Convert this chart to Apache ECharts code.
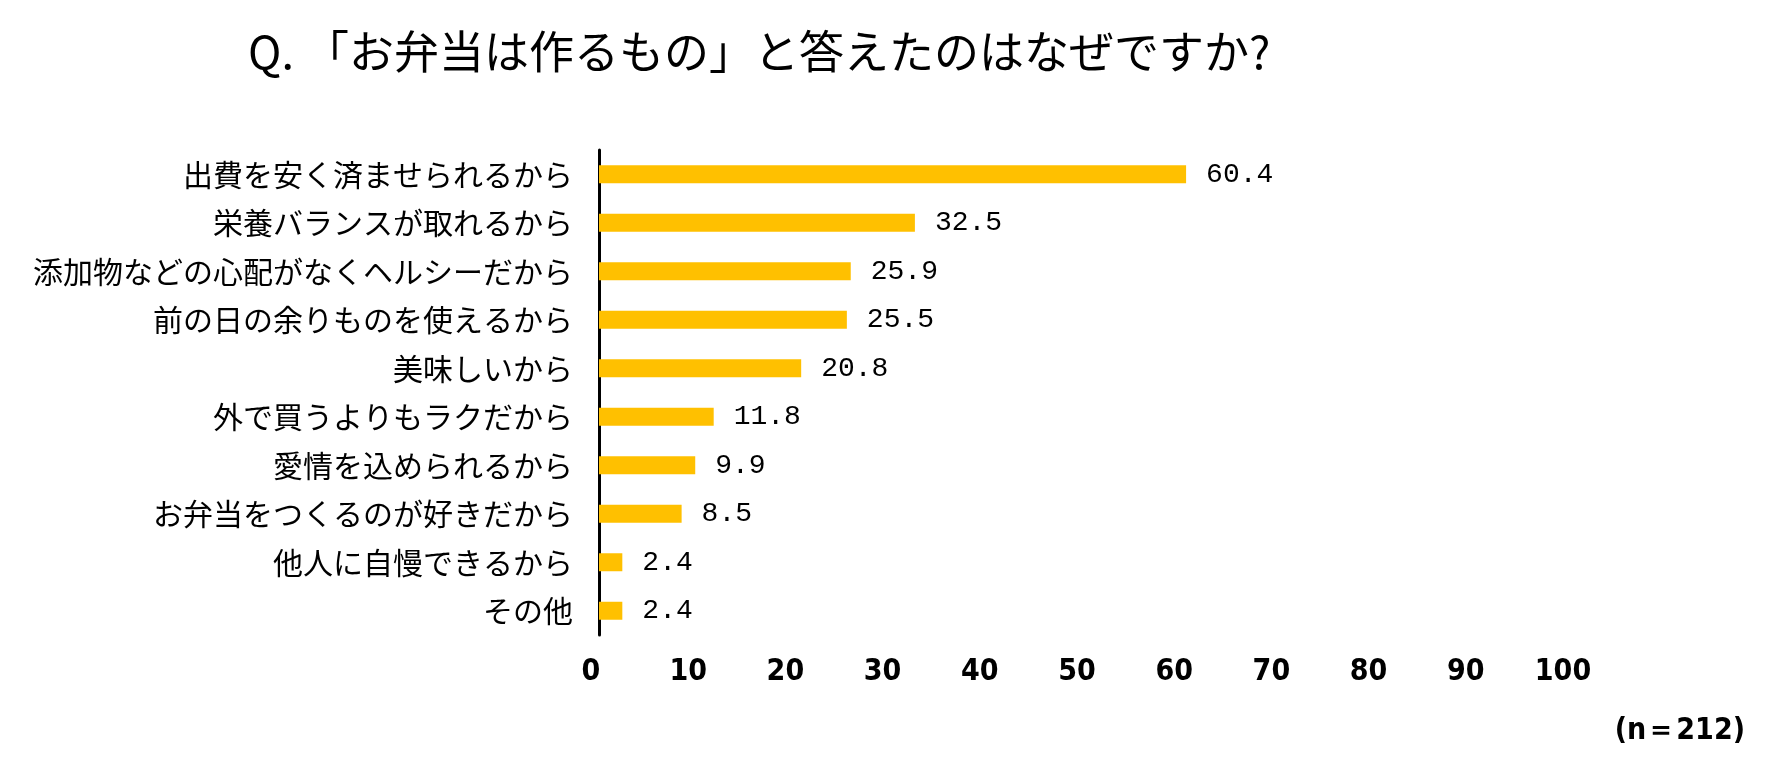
<!DOCTYPE html>
<html>
<head>
<meta charset="utf-8">
<script src="https://cdn.jsdelivr.net/npm/echarts@6/dist/echarts.min.js"></script>
<style>
  html, body { margin: 0; padding: 0; background: #fff; }
  #chart { width: 1779px; height: 784px; }
</style>
</head>
<body>
<div id="chart"></div>
<script>
const titleText = 'Q. 「お弁当は作るもの」と答えたのはなぜですか?';
const noteText = '(n＝212)';

const reasons = [
  '出費を安く済ませられるから',
  '栄養バランスが取れるから',
  '添加物などの心配がなくヘルシーだから',
  '前の日の余りものを使えるから',
  '美味しいから',
  '外で買うよりもラクだから',
  '愛情を込められるから',
  'お弁当をつくるのが好きだから',
  '他人に自慢できるから',
  'その他'
];
const percents = [60.4, 32.5, 25.9, 25.5, 20.8, 11.8, 9.9, 8.5, 2.4, 2.4];

const axisMin = 0;
const axisMax = 100;
const axisStep = 10;

const chart = echarts.init(document.getElementById('chart'));

const option = {
  backgroundColor: '#fff',
  animation: false,
  title: {
    text: titleText,
    left: 243,
    top: 24,
    textStyle: {
      fontFamily: 'Noto Sans CJK JP',
      fontSize: 45,
      fontWeight: 'normal',
      color: '#000'
    }
  },
  grid: {
    left: 599,
    right: 208,
    top: 150,
    bottom: 149,
    containLabel: false
  },
  xAxis: {
    type: 'value',
    min: axisMin,
    max: axisMax,
    interval: axisStep,
    axisLine: { show: false },
    axisTick: { show: false },
    splitLine: { show: false },
    axisLabel: {
      margin: 22,
      padding: [0, 16, 0, 0],
      fontFamily: 'DejaVu Sans Condensed',
      fontWeight: 'bold',
      fontSize: 30,
      color: '#000'
    }
  },
  yAxis: {
    type: 'category',
    inverse: true,
    data: reasons,
    axisLine: { show: true, lineStyle: { color: '#000', width: 3 } },
    axisTick: { show: false },
    splitLine: { show: false },
    axisLabel: {
      margin: 26,
      fontFamily: 'Noto Sans CJK JP',
      fontSize: 30,
      color: '#000'
    }
  },
  series: [{
    type: 'bar',
    data: percents,
    barWidth: 18,
    itemStyle: { color: '#FFC000' },
    label: {
      show: true,
      position: 'right',
      distance: 20,
      formatter: p => p.value.toFixed(1),
      fontFamily: 'Liberation Mono',
      fontSize: 28,
      color: '#000'
    }
  }],
  graphic: [{
    type: 'text',
    right: 34,
    top: 716,
    style: {
      text: noteText,
      fontFamily: 'DejaVu Sans Condensed',
      fontWeight: 'bold',
      fontSize: 30,
      fill: '#000'
    }
  }]
};

chart.setOption(option);
</script>
</body>
</html>
